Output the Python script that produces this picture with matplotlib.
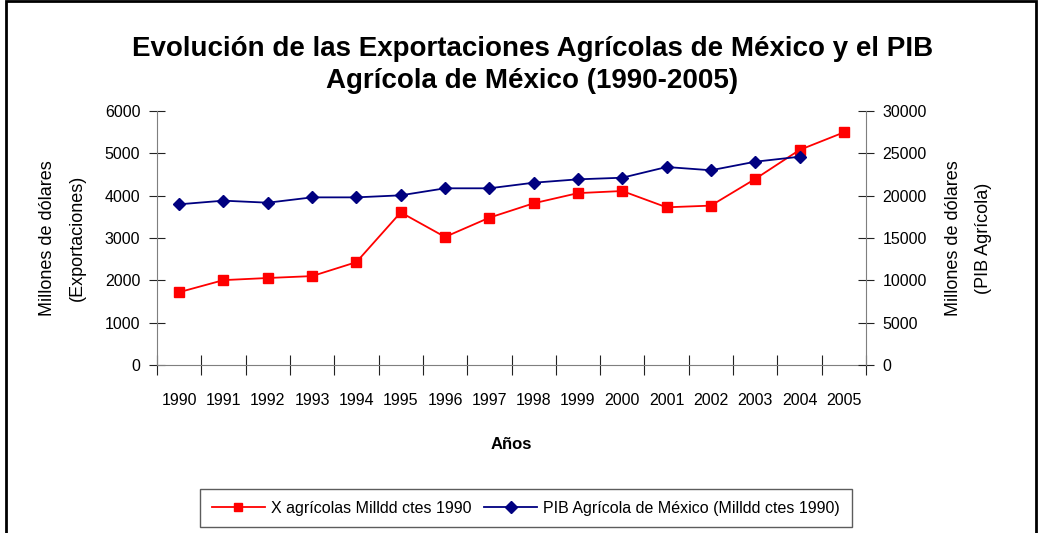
import numpy as np
import matplotlib
matplotlib.use("Agg")
import matplotlib.pyplot as plt
from matplotlib.patches import Rectangle

# Datos
years = ["1990", "1991", "1992", "1993", "1994", "1995", "1996", "1997",
         "1998", "1999", "2000", "2001", "2002", "2003", "2004", "2005"]
export_agr = [1720, 2005, 2055, 2100, 2430, 3605, 3025, 3480,
              3820, 4060, 4110, 3725, 3765, 4395, 5080, 5495]
pib_agr = [18980, 19410, 19170, 19800, 19800, 20040, 20870, 20870,
           21530, 21930, 22120, 23385, 23000, 24010, 24600, np.nan]

fam = ["Liberation Sans", "DejaVu Sans"]
axis_col = "#7f7f7f"

fig = plt.figure(figsize=(10.4, 5.33), dpi=100)
ax = fig.add_axes([157 / 1040, 1 - 365 / 533, (866 - 157) / 1040, (365 - 111) / 533])
ax2 = ax.twinx()

x = np.arange(len(years))
l1, = ax.plot(x, export_agr, color="#ff0000", lw=1.3, marker="s", ms=7,
              label="X agrícolas Milldd ctes 1990", zorder=3)
l2, = ax2.plot(x, pib_agr, color="#000080", lw=1.3, marker="D", ms=6.5,
               label="PIB Agrícola de México (Milldd ctes 1990)", zorder=3)

ax.set_xlim(-0.5, len(years) - 0.5)
ax.set_ylim(0, 6000)
ax2.set_ylim(0, 30000)
ax.set_yticks(range(0, 6001, 1000))
ax2.set_yticks(range(0, 30001, 5000))

ax.set_xticks(np.arange(-0.5, len(years), 1))
ax.set_xticklabels([])
ax.set_xticks(x, minor=True)
ax.set_xticklabels(years, minor=True, family=fam, fontsize=11.5)
ax.tick_params(axis="x", which="minor", length=0, pad=20)
ax.tick_params(axis="x", which="major", direction="inout", length=14, color="#222222")

for a in (ax, ax2):
    for s in a.spines.values():
        s.set_visible(False)
ax.spines["left"].set_visible(True)
ax.spines["bottom"].set_visible(True)
ax2.spines["right"].set_visible(True)
ax.spines["left"].set_color(axis_col)
ax.spines["bottom"].set_color(axis_col)
ax2.spines["right"].set_color(axis_col)

ax.tick_params(axis="y", direction="inout", length=12, color="#222222", pad=6)
ax2.tick_params(axis="y", direction="inout", length=12, color="#222222", pad=6)
for lab in ax.get_yticklabels() + ax2.get_yticklabels():
    lab.set_family(fam)
    lab.set_fontsize(11.5)

ax.set_xlabel("Años", family=fam, fontweight="bold", fontsize=12, labelpad=21)
ax.set_ylabel("Millones de dólares\n(Exportaciones)", family=fam, fontsize=13,
              linespacing=2.0)
ax2.set_ylabel("Millones de dólares\n(PIB Agrícola)", family=fam, fontsize=13,
               rotation=90, linespacing=2.0)
ax.yaxis.set_label_coords((86 - 157) / 709, 0.5)
ax2.yaxis.set_label_coords((945 - 157) / 709, 0.5)

fig.text(0.512, 1 - 65 / 533, "Evolución de las Exportaciones Agrícolas de México y el PIB\n"
         "Agrícola de México (1990-2005)", ha="center", va="center",
         family=fam, fontweight="bold", fontsize=20, linespacing=1.35)

leg = fig.legend(handles=[l1, l2], loc="center", ncol=2,
                 bbox_to_anchor=(526 / 1040, 1 - 508 / 533), frameon=True,
                 fancybox=False, edgecolor="#333333", prop={"family": fam, "size": 11.5},
                 handlelength=3.3, columnspacing=0.8, handletextpad=0.4,
                 borderpad=0.75, markerscale=0.9)
leg.get_frame().set_linewidth(1.0)

# borde del area del grafico
fig.patches.append(Rectangle((6 / 1040, -0.05), (1036 - 6) / 1040, 1.05 - 1 / 533,
                             transform=fig.transFigure, fill=False,
                             edgecolor="black", lw=2))

fig.savefig("out.png", dpi=100)
